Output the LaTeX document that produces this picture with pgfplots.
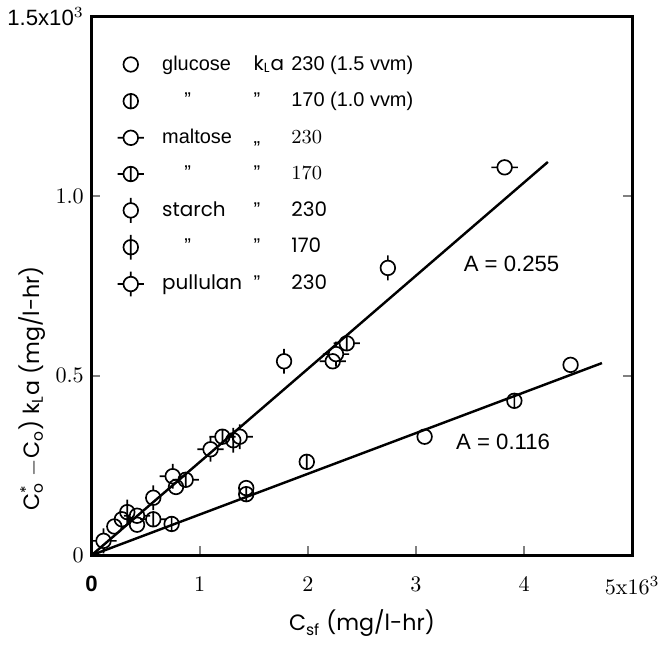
\documentclass[border=0pt]{standalone}
\usepackage{fontspec}
\setsansfont{Liberation Sans}
\newfontfamily\geo{Poppins}
\usepackage{pgfplots}
\pgfplotsset{compat=1.18}

% open circle marks with the little ticks of the original
\pgfdeclareplotmark{co}{\pgfpathcircle{\pgfpointorigin}{\pgfplotmarksize}\pgfusepathqstroke}
\pgfdeclareplotmark{cv}{%
  \pgfpathcircle{\pgfpointorigin}{\pgfplotmarksize}%
  \pgfpathmoveto{\pgfpoint{0pt}{-\pgfplotmarksize}}\pgfpathlineto{\pgfpoint{0pt}{\pgfplotmarksize}}%
  \pgfusepathqstroke}
\pgfdeclareplotmark{ch}{%
  \pgfpathcircle{\pgfpointorigin}{\pgfplotmarksize}%
  \pgfpathmoveto{\pgfpoint{\pgfplotmarksize}{0pt}}\pgfpathlineto{\pgfpoint{1.8\pgfplotmarksize}{0pt}}%
  \pgfpathmoveto{\pgfpoint{-\pgfplotmarksize}{0pt}}\pgfpathlineto{\pgfpoint{-1.8\pgfplotmarksize}{0pt}}%
  \pgfusepathqstroke}
\pgfdeclareplotmark{chv}{%
  \pgfpathcircle{\pgfpointorigin}{\pgfplotmarksize}%
  \pgfpathmoveto{\pgfpoint{\pgfplotmarksize}{0pt}}\pgfpathlineto{\pgfpoint{1.8\pgfplotmarksize}{0pt}}%
  \pgfpathmoveto{\pgfpoint{-\pgfplotmarksize}{0pt}}\pgfpathlineto{\pgfpoint{-1.8\pgfplotmarksize}{0pt}}%
  \pgfpathmoveto{\pgfpoint{0pt}{-\pgfplotmarksize}}\pgfpathlineto{\pgfpoint{0pt}{\pgfplotmarksize}}%
  \pgfusepathqstroke}
\pgfdeclareplotmark{ct}{%
  \pgfpathcircle{\pgfpointorigin}{\pgfplotmarksize}%
  \pgfpathmoveto{\pgfpoint{0pt}{\pgfplotmarksize}}\pgfpathlineto{\pgfpoint{0pt}{1.7\pgfplotmarksize}}%
  \pgfpathmoveto{\pgfpoint{0pt}{-\pgfplotmarksize}}\pgfpathlineto{\pgfpoint{0pt}{-1.7\pgfplotmarksize}}%
  \pgfusepathqstroke}
\pgfdeclareplotmark{ctv}{%
  \pgfpathcircle{\pgfpointorigin}{\pgfplotmarksize}%
  \pgfpathmoveto{\pgfpoint{0pt}{-1.7\pgfplotmarksize}}\pgfpathlineto{\pgfpoint{0pt}{1.7\pgfplotmarksize}}%
  \pgfusepathqstroke}
\pgfdeclareplotmark{cx}{%
  \pgfpathcircle{\pgfpointorigin}{\pgfplotmarksize}%
  \pgfpathmoveto{\pgfpoint{\pgfplotmarksize}{0pt}}\pgfpathlineto{\pgfpoint{1.8\pgfplotmarksize}{0pt}}%
  \pgfpathmoveto{\pgfpoint{-\pgfplotmarksize}{0pt}}\pgfpathlineto{\pgfpoint{-1.8\pgfplotmarksize}{0pt}}%
  \pgfpathmoveto{\pgfpoint{0pt}{\pgfplotmarksize}}\pgfpathlineto{\pgfpoint{0pt}{1.7\pgfplotmarksize}}%
  \pgfpathmoveto{\pgfpoint{0pt}{-\pgfplotmarksize}}\pgfpathlineto{\pgfpoint{0pt}{-1.7\pgfplotmarksize}}%
  \pgfusepathqstroke}

\newcommand{\nm}[1]{\hspace{0.22cm}\makebox[1.45cm][l]{#1}}
\newcommand{\kk}[1]{\makebox[0.6cm][l]{#1}}
\newcommand{\kla}{\geo k\textsubscript{L}a}

\begin{document}
\begin{tikzpicture}
\begin{axis}[
  scale only axis,
  width=8.58cm, height=8.55cm,
  xmin=0, xmax=5, ymin=0, ymax=1.5,
  axis line style={line width=1.3pt},
  tick align=inside, xtick pos=bottom, ytick pos=both,
  major tick length=4pt,
  tick style={line width=0.8pt},
  xtick={0,1,2,3,4,5},
  xticklabels={\textbf{\sffamily 0},1,2,3,4,5x16$^{3}$},
  ytick={0,0.5,1.0,1.5},
  yticklabels={0,0.5,1.0,{\sffamily 1.5x10$^{3}$}},
  xticklabel style={yshift=-6pt},
  xlabel={\geo C\textsubscript{sf} (mg/l-hr)},
  ylabel={\geo C\rlap{\textsuperscript{*}}\textsubscript{o} $-$C\textsubscript{o}) k\textsubscript{L}a (mg/l-hr)},
  ylabel style={at={(axis description cs:-0.11,0.31)}, anchor=center},
  mark size=3.3pt,
  every axis plot/.append style={mark options={line width=0.75pt, black}},
  legend style={draw=none, fill=none, at={(axis description cs:0.035,0.945)}, anchor=north west,
    font=\small\sffamily, row sep=4.5pt, cells={anchor=west}},
]
\addplot[only marks, mark=co] coordinates {
  (3.08,0.33)(4.43,0.53)(1.43,0.187)(0.42,0.085)(0.78,0.19)(0.21,0.08)(0.28,0.10)};
\addlegendentry{\nm{glucose}\kk{\kla}230 (1.5 vvm)}
\addplot[only marks, mark=cv] coordinates {
  (0.74,0.087)(1.43,0.17)(1.99,0.26)(3.91,0.43)};
\addlegendentry{\nm{\hspace{0.35cm}''}\kk{''}170 (1.0 vvm)}
\addplot[only marks, mark=ch] coordinates {
  (3.82,1.08)(2.23,0.54)(0.42,0.11)};
\addlegendentry{\nm{maltose}\kk{,,}{\rmfamily 230}}
\addplot[only marks, mark=chv] coordinates {
  (2.36,0.59)(0.87,0.21)(1.21,0.33)(0.57,0.10)};
\addlegendentry{\nm{\hspace{0.35cm}''}\kk{''}{\rmfamily 170}}
\addplot[only marks, mark=ct] coordinates {
  (2.74,0.80)(1.78,0.54)(0.57,0.16)};
\addlegendentry{\nm{\geo starch}\kk{''}{\geo 230}}
\addplot[only marks, mark=ctv] coordinates {
  (1.31,0.32)(0.33,0.12)};
\addlegendentry{\nm{\hspace{0.35cm}''}\kk{''}{\geo 170}}
\addplot[only marks, mark=cx] coordinates {
  (0.75,0.22)(1.10,0.295)(0.11,0.04)(1.37,0.33)(2.26,0.56)};
\addlegendentry{\nm{\geo pullulan}\kk{''}{\geo 230}}
% fitted lines
\addplot[forget plot, no marks, line width=1.1pt] coordinates {(0,0)(4.22,1.095)};
\addplot[forget plot, no marks, line width=1.1pt] coordinates {(0,0)(4.72,0.535)};
\node[anchor=west, font=\sffamily] at (axis cs:3.37,0.81) {A = 0.255};
\node[anchor=west, font=\sffamily] at (axis cs:3.30,0.316) {A = 0.116};
\end{axis}
\end{tikzpicture}
\end{document}
